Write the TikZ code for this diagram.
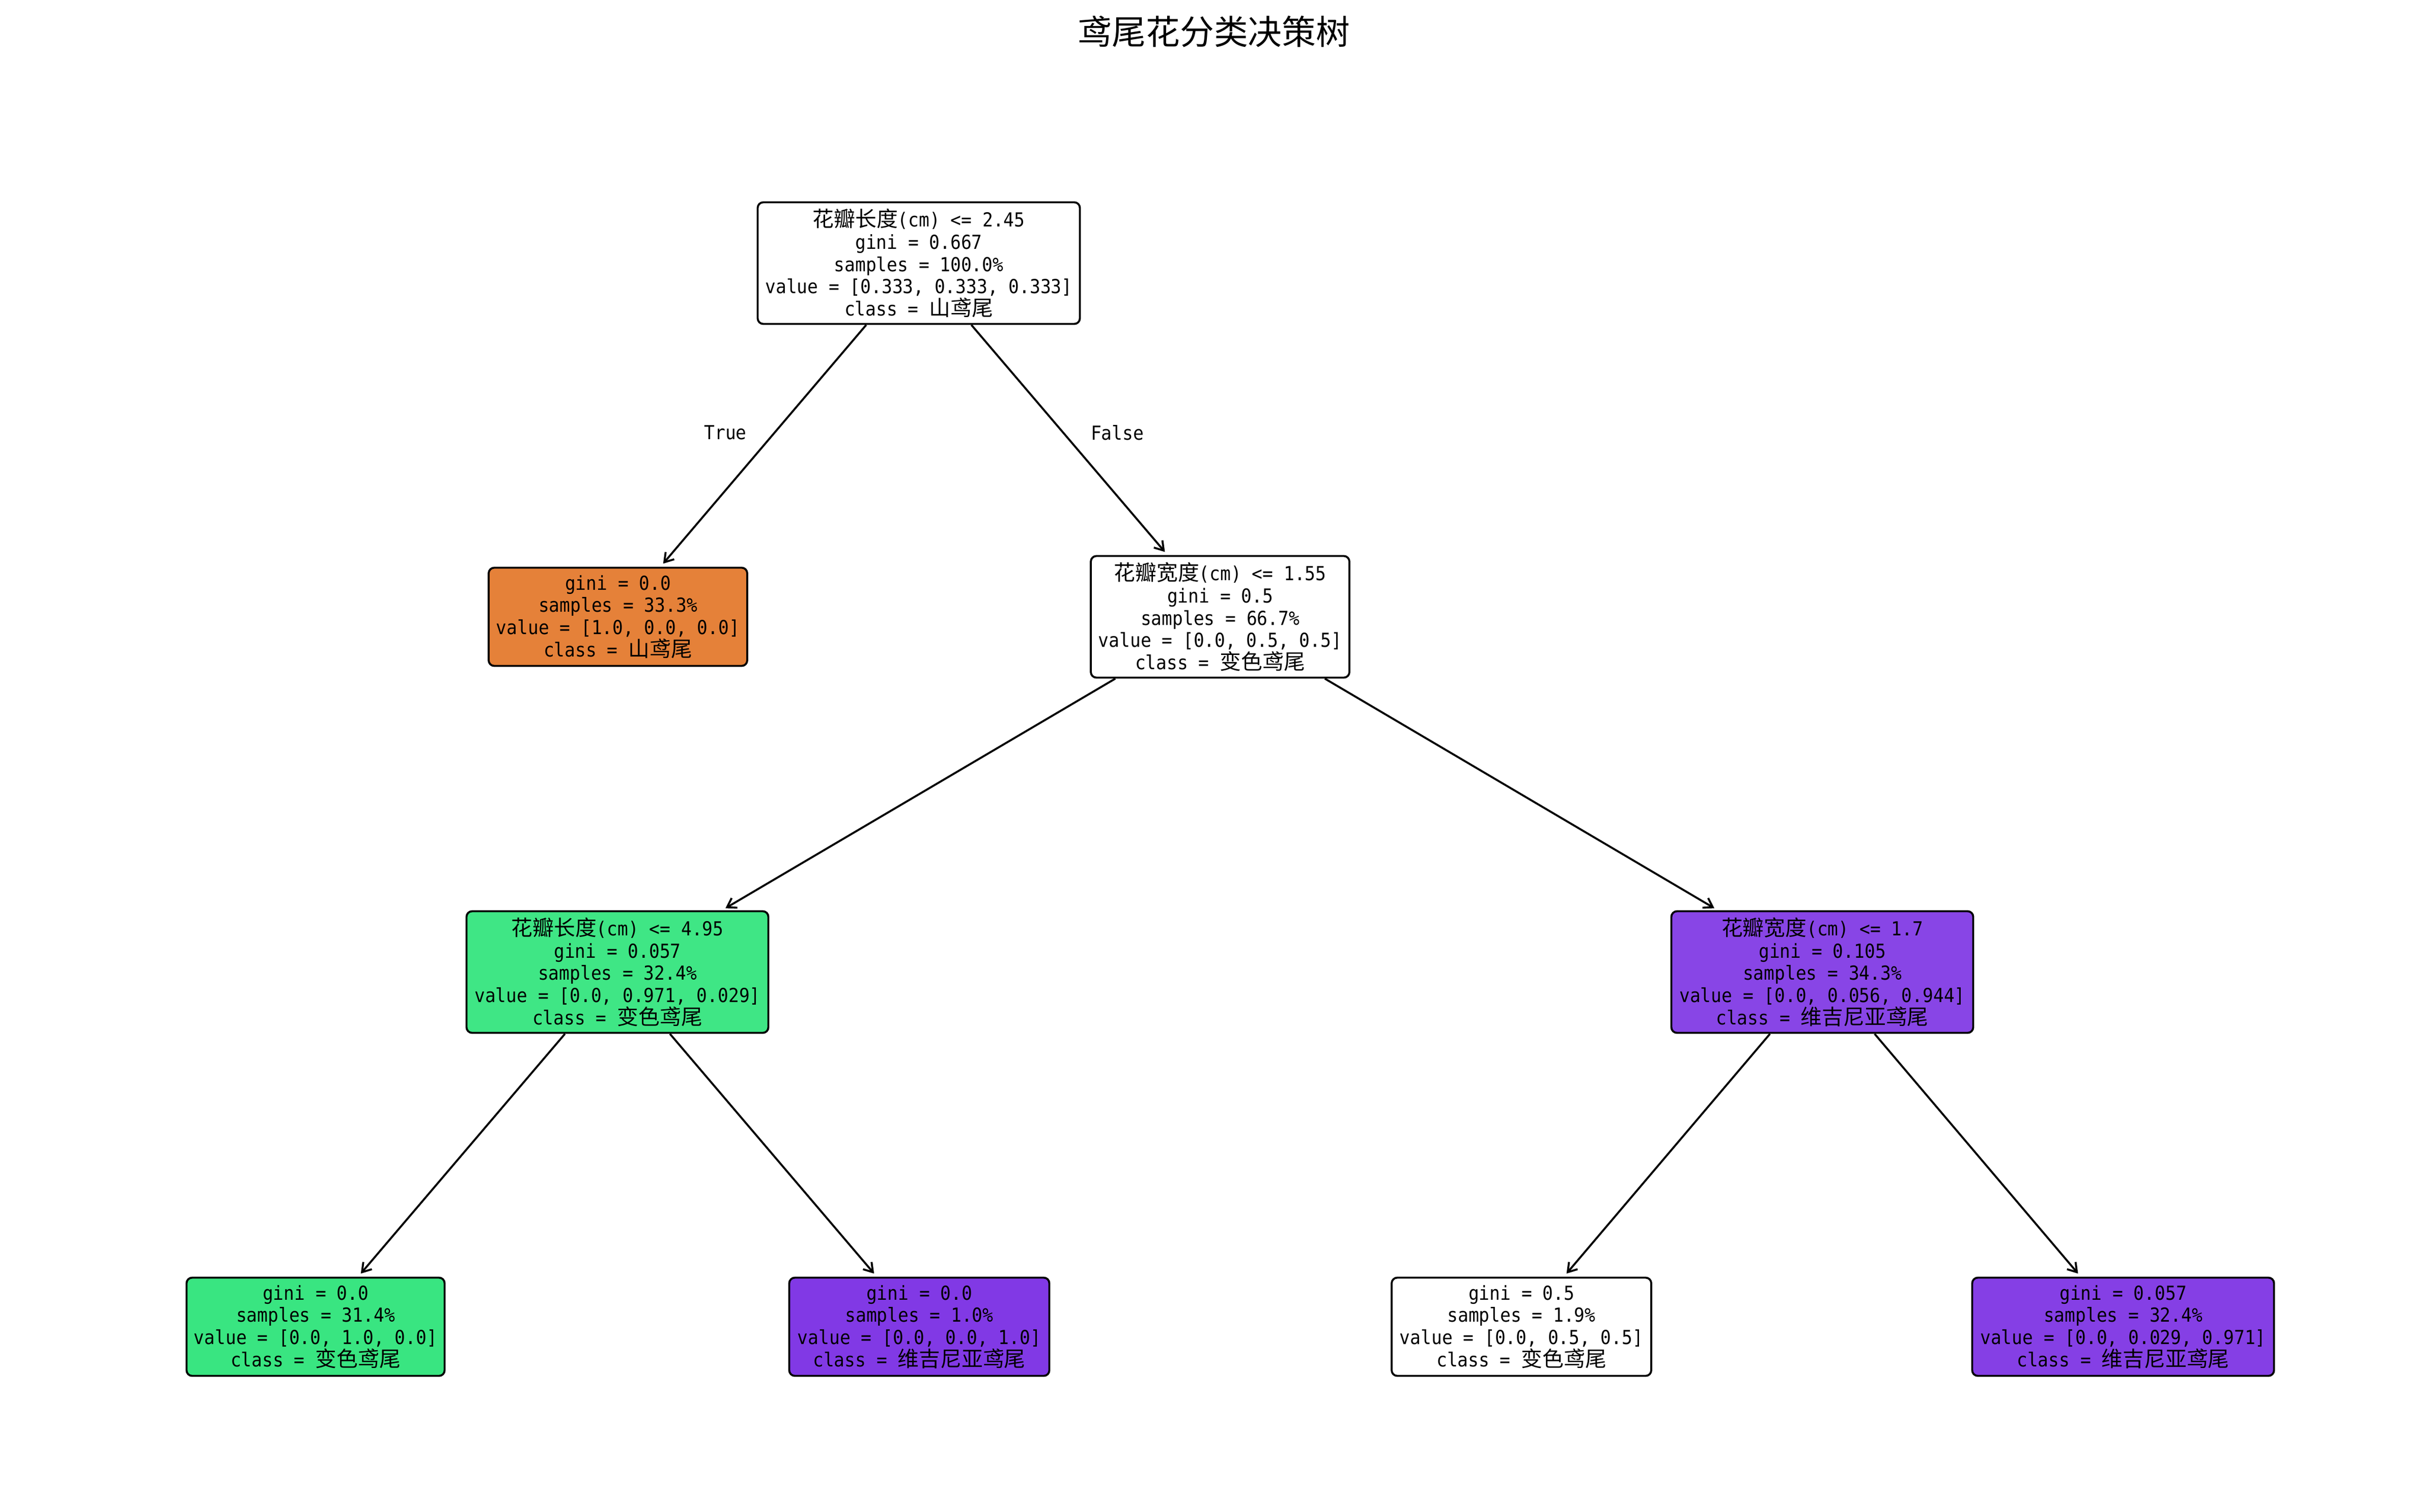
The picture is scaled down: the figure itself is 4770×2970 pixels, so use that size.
\documentclass[tikz,border=0pt]{standalone}
\usepackage{fontspec}
\setmainfont{Noto Sans CJK SC}
\newfontfamily\cjkf{Noto Sans CJK SC}
\newfontfamily\latf{DejaVu Sans Mono}[FakeStretch=0.91]
\usetikzlibrary{arrows.meta}
\newcommand\zh[1]{{\cjkf\fontsize{11.9pt}{12.43pt}\selectfont #1}}
\definecolor{corange}{HTML}{E58139}
\definecolor{cgreen}{HTML}{39E581}
\definecolor{cgreenb}{HTML}{3FE685}
\definecolor{cpurple}{HTML}{8139E5}
\definecolor{cpurpleb}{HTML}{8845E6}
\definecolor{cpurplec}{HTML}{853FE5}
\begin{document}
\begin{tikzpicture}[x=0.1mm,y=-0.1mm,
  tnode/.style={draw=black, line width=1.1pt, rounded corners=1.1mm, align=center,
    inner xsep=1.2mm, inner ysep=0pt, text=black,
    font=\latf\fontsize{10.8pt}{12.43pt}\selectfont},
  split/.style={tnode, minimum height=23.9mm},
  leafbox/.style={tnode, minimum height=19.3mm},
  edgearrow/.style={-{Straight Barb[length=1.7mm,width=2.2mm]}, line width=1.1pt, shorten >=0.8mm},
  lbl/.style={font=\latf\fontsize{10.8pt}{12.43pt}\selectfont, inner sep=0pt}
]
\fill[white] (0,0) rectangle (4770,2970);
\useasboundingbox (0,0) rectangle (4770,2970);

\node[font=\cjkf\fontsize{19pt}{21pt}\selectfont, inner sep=0pt] (title) at (2385,62) {鸢尾花分类决策树};

\node[split, minimum width=63.3mm, fill=white] (root) at (1805,517)
  {\zh{花瓣长度}(cm) <= 2.45\\gini = 0.667\\samples = 100.0\%\\value = [0.333, 0.333, 0.333]\\class = \zh{山鸢尾}};

\node[leafbox, minimum width=50.8mm, fill=corange] (l1) at (1214,1212)
  {gini = 0.0\\samples = 33.3\%\\value = [1.0, 0.0, 0.0]\\class = \zh{山鸢尾}};

\node[split, minimum width=50.8mm, fill=white] (n2) at (2397,1212)
  {\zh{花瓣宽度}(cm) <= 1.55\\gini = 0.5\\samples = 66.7\%\\value = [0.0, 0.5, 0.5]\\class = \zh{变色鸢尾}};

\node[split, minimum width=59.3mm, fill=cgreenb] (n3) at (1213,1910)
  {\zh{花瓣长度}(cm) <= 4.95\\gini = 0.057\\samples = 32.4\%\\value = [0.0, 0.971, 0.029]\\class = \zh{变色鸢尾}};

\node[split, minimum width=59.3mm, fill=cpurpleb] (n4) at (3580,1910)
  {\zh{花瓣宽度}(cm) <= 1.7\\gini = 0.105\\samples = 34.3\%\\value = [0.0, 0.056, 0.944]\\class = \zh{维吉尼亚鸢尾}};

\node[leafbox, minimum width=50.7mm, fill=cgreen] (l5) at (620,2607)
  {gini = 0.0\\samples = 31.4\%\\value = [0.0, 1.0, 0.0]\\class = \zh{变色鸢尾}};

\node[leafbox, minimum width=51.1mm, fill=cpurple] (l6) at (1806,2607)
  {gini = 0.0\\samples = 1.0\%\\value = [0.0, 0.0, 1.0]\\class = \zh{维吉尼亚鸢尾}};

\node[leafbox, minimum width=51.0mm, fill=white] (l7) at (2989,2607)
  {gini = 0.5\\samples = 1.9\%\\value = [0.0, 0.5, 0.5]\\class = \zh{变色鸢尾}};

\node[leafbox, minimum width=59.3mm, fill=cpurplec] (l8) at (4171,2607)
  {gini = 0.057\\samples = 32.4\%\\value = [0.0, 0.029, 0.971]\\class = \zh{维吉尼亚鸢尾}};

\draw[edgearrow] (root) -- (l1);
\draw[edgearrow] (root) -- (n2);
\draw[edgearrow] (n2) -- (n3);
\draw[edgearrow] (n2) -- (n4);
\draw[edgearrow] (n3) -- (l5);
\draw[edgearrow] (n3) -- (l6);
\draw[edgearrow] (n4) -- (l7);
\draw[edgearrow] (n4) -- (l8);

\node[lbl] (ltrue) at (1425,850) {True};
\node[lbl] (lfalse) at (2195,850) {False};
\end{tikzpicture}
\end{document}
